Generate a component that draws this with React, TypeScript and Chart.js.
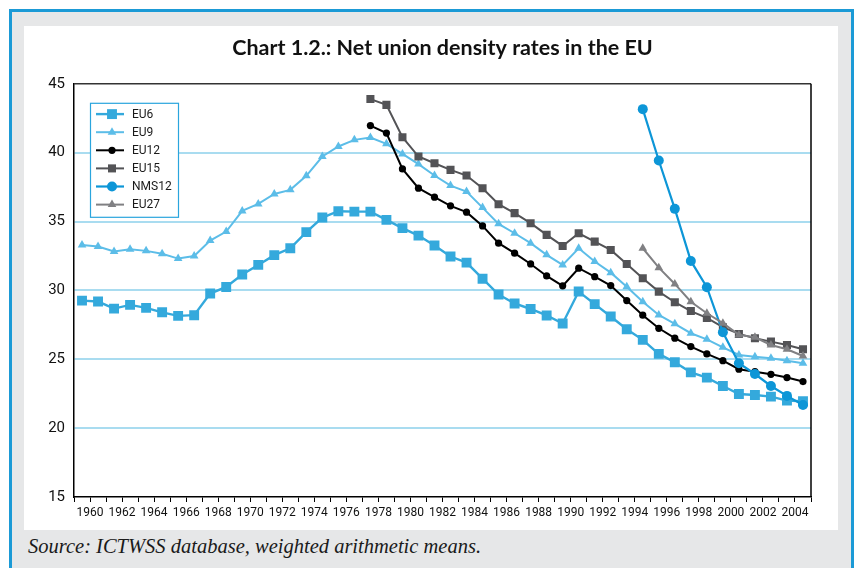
import React, { useEffect, useRef } from 'react';
import { Chart, registerables } from 'chart.js';

Chart.register(...registerables);

const titleText = 'Chart 1.2.: Net union density rates in the EU';
const sourceText = 'Source: ICTWSS database, weighted arithmetic means.';

const years = [
  '1960', '1961', '1962', '1963', '1964', '1965', '1966', '1967', '1968', '1969',
  '1970', '1971', '1972', '1973', '1974', '1975', '1976', '1977', '1978', '1979',
  '1980', '1981', '1982', '1983', '1984', '1985', '1986', '1987', '1988', '1989',
  '1990', '1991', '1992', '1993', '1994', '1995', '1996', '1997', '1998', '1999',
  '2000', '2001', '2002', '2003', '2004', '2005',
];

const yTicks = [15, 20, 25, 30, 35, 40, 45];

const eu6 = [
  29.26, 29.19, 28.68, 28.95, 28.73, 28.41, 28.15, 28.2, 29.77, 30.25,
  31.15, 31.85, 32.56, 33.06, 34.23, 35.29, 35.75, 35.72, 35.72, 35.12,
  34.52, 33.98, 33.26, 32.46, 32.02, 30.85, 29.7, 29.05, 28.65, 28.18,
  27.6, 29.92, 29.0, 28.1, 27.18, 26.41, 25.39, 24.78, 24.05, 23.67,
  23.06, 22.48, 22.41, 22.29, 22.0, 21.95,
];

const eu9 = [
  33.3, 33.18, 32.82, 32.99, 32.87, 32.66, 32.31, 32.5, 33.62, 34.27,
  35.77, 36.28, 37.0, 37.3, 38.32, 39.72, 40.45, 40.93, 41.1, 40.64,
  39.91, 39.17, 38.34, 37.61, 37.18, 36.01, 34.83, 34.15, 33.43, 32.58,
  31.85, 33.06, 32.1, 31.29, 30.27, 29.18, 28.22, 27.57, 26.89, 26.45,
  25.87, 25.31, 25.19, 25.07, 24.9, 24.71,
];

const eu12 = [
  null, null, null, null, null, null, null, null, null, null,
  null, null, null, null, null, null, null, null, 41.97, 41.42,
  38.82, 37.42, 36.77, 36.14, 35.68, 34.68, 33.43, 32.7, 31.92, 31.05,
  30.33, 31.61, 31.0, 30.35, 29.26, 28.2, 27.25, 26.53, 25.92, 25.39,
  24.9, 24.28, 24.1, 23.91, 23.67, 23.38,
];

const eu15 = [
  null, null, null, null, null, null, null, null, null, null,
  null, null, null, null, null, null, null, null, 43.89, 43.47,
  41.12, 39.72, 39.23, 38.75, 38.34, 37.42, 36.26, 35.61, 34.88, 34.03,
  33.23, 34.15, 33.54, 32.94, 31.92, 30.88, 29.91, 29.14, 28.5, 28.0,
  27.33, 26.84, 26.53, 26.28, 26.04, 25.73,
];

const nms12 = [
  null, null, null, null, null, null, null, null, null, null,
  null, null, null, null, null, null, null, null, null, null,
  null, null, null, null, null, null, null, null, null, null,
  null, null, null, null, null, 43.16, 39.43, 35.92, 32.14, 30.23,
  26.96, 24.71, 23.93, 23.06, 22.34, 21.68,
];

const eu27 = [
  null, null, null, null, null, null, null, null, null, null,
  null, null, null, null, null, null, null, null, null, null,
  null, null, null, null, null, null, null, null, null, null,
  null, null, null, null, null, 33.06, 31.65, 30.47, 29.18, 28.34,
  27.62, 26.77, 26.6, 26.04, 25.73, 25.24,
];

const seriesLabels = ['EU6', 'EU9', 'EU12', 'EU15', 'NMS12', 'EU27'];
const seriesData = [eu6, eu9, eu12, eu15, nms12, eu27];
const seriesColors = ['#34a9dc', '#5cbde8', '#000000', '#535356', '#0d96d7', '#808083'];
const seriesMarkers = ['rect', 'triangle', 'circle', 'rect', 'circle', 'triangle'];
const markerRadius = [7, 5, 3.6, 5.7, 5, 5];
const lineWidths = [2.4, 2, 2, 2, 2.2, 2];

function drawMarker(ctx: CanvasRenderingContext2D, style: string, r: number, x: number, y: number) {
  ctx.beginPath();
  if (style === 'rect') {
    const s = Math.SQRT1_2 * r;
    ctx.rect(x - s, y - s, 2 * s, 2 * s);
  } else if (style === 'triangle') {
    let a = 0;
    ctx.moveTo(x + Math.sin(a) * r, y - Math.cos(a) * r);
    a += (2 * Math.PI) / 3;
    ctx.lineTo(x + Math.sin(a) * r, y - Math.cos(a) * r);
    a += (2 * Math.PI) / 3;
    ctx.lineTo(x + Math.sin(a) * r, y - Math.cos(a) * r);
    ctx.closePath();
  } else {
    ctx.arc(x, y, r, 0, Math.PI * 2);
  }
  ctx.fill();
}

const framePlugin = {
  id: 'frame',
  beforeDatasetsDraw(chart: any) {
    const { ctx, chartArea } = chart;
    ctx.save();
    ctx.lineWidth = 1.5;
    ctx.strokeStyle = '#333';
    ctx.beginPath();
    ctx.moveTo(chartArea.left, chartArea.top);
    ctx.lineTo(chartArea.right, chartArea.top);
    ctx.stroke();
    ctx.strokeStyle = '#000';
    ctx.beginPath();
    ctx.moveTo(chartArea.right, chartArea.top);
    ctx.lineTo(chartArea.right, chartArea.bottom);
    ctx.stroke();
    ctx.restore();
  },
};

const legendPlugin = {
  id: 'boxLegend',
  afterDraw(chart: any) {
    const { ctx, chartArea } = chart;
    const x0 = chartArea.left + 16;
    const y0 = chartArea.top + 19;
    const w = 88;
    const h = 114;
    ctx.save();
    ctx.fillStyle = '#ffffff';
    ctx.fillRect(x0, y0, w, h);
    ctx.strokeStyle = '#2aa5dd';
    ctx.lineWidth = 1.2;
    ctx.strokeRect(x0 + 0.5, y0 + 0.5, w, h);
    seriesLabels.forEach((label, i) => {
      const cy = y0 + 11.3 + i * 18.1;
      ctx.strokeStyle = seriesColors[i];
      ctx.lineWidth = lineWidths[i];
      ctx.beginPath();
      ctx.moveTo(x0 + 6, cy);
      ctx.lineTo(x0 + 34, cy);
      ctx.stroke();
      ctx.fillStyle = seriesColors[i];
      drawMarker(ctx, seriesMarkers[i], markerRadius[i], x0 + 22, cy);
      ctx.fillStyle = '#1a1a1a';
      ctx.font = '12px Roboto, "Noto Sans", sans-serif';
      ctx.textBaseline = 'middle';
      ctx.textAlign = 'left';
      ctx.fillText(label, x0 + 42, cy + 0.5);
    });
    ctx.restore();
  },
};

function UnionChart() {
  const ref = useRef<HTMLCanvasElement | null>(null);

  useEffect(() => {
    if (!ref.current) return;
    const datasets = seriesLabels.map((label, i) => ({
      label,
      data: seriesData[i],
      borderColor: seriesColors[i],
      backgroundColor: seriesColors[i],
      pointBackgroundColor: seriesColors[i],
      pointBorderColor: seriesColors[i],
      pointBorderWidth: 0,
      pointStyle: seriesMarkers[i],
      pointRadius: markerRadius[i],
      borderWidth: lineWidths[i],
      tension: 0,
      fill: false,
      spanGaps: false,
      order: seriesLabels.length - i,
    }));

    const chart = new Chart(ref.current, {
      type: 'line',
      data: { labels: years, datasets },
      options: {
        responsive: false,
        animation: false,
        layout: { padding: { left: 0, right: 27, top: 0, bottom: 0 } },
        plugins: {
          legend: { display: false },
          tooltip: { enabled: false },
          title: {
            display: true,
            fullSize: false,
            text: titleText,
            color: '#111',
            font: { family: 'Lato, Roboto, sans-serif', size: 21.5, weight: 'bold', lineHeight: 1.2 },
            padding: { top: 9, bottom: 23 },
          },
        },
        scales: {
          x: {
            type: 'category',
            offset: true,
            grid: {
              offset: true,
              drawOnChartArea: false,
              drawTicks: true,
              tickLength: 5,
              tickColor: '#000',
              tickWidth: 1,
            },
            border: { color: '#000', width: 1.5 },
            ticks: {
              autoSkip: false,
              maxRotation: 0,
              minRotation: 0,
              labelOffset: 8,
              padding: 4,
              color: '#111',
              font: { family: 'Roboto, sans-serif', size: 12 },
              callback: (_v: any, i: number) => (i % 2 === 0 ? years[i] : ''),
            },
            afterFit: (s: any) => {
              s.height = 33;
            },
          },
          y: {
            min: yTicks[0],
            max: yTicks[yTicks.length - 1],
            afterBuildTicks: (s: any) => {
              s.ticks = yTicks.map((v) => ({ value: v }));
            },
            ticks: {
              padding: 9,
              color: '#111',
              font: { family: 'Roboto, sans-serif', size: 15 },
            },
            grid: {
              color: (c: any) =>
                c.tick && (c.tick.value === 15 || c.tick.value === 45) ? 'rgba(0,0,0,0)' : '#a9dcf0',
              lineWidth: 2,
              drawTicks: false,
            },
            border: { color: '#000', width: 1.5 },
            afterFit: (s: any) => {
              s.width = 50;
            },
          },
        },
      },
      plugins: [framePlugin, legendPlugin],
    } as any);

    return () => chart.destroy();
  }, []);

  return <canvas ref={ref} width={814} height={504} style={{ display: 'block' }} />;
}

export default function App() {
  return (
    <div
      style={{
        position: 'fixed',
        left: 0,
        top: 0,
        width: 856,
        height: 568,
        background: '#ffffff',
        overflow: 'hidden',
      }}
    >
      <div
        style={{
          position: 'absolute',
          left: 9,
          top: 9,
          width: 845,
          height: 620,
          boxSizing: 'border-box',
          border: '3px solid #1b9ad6',
          background: '#e6e7e8',
        }}
      />
      <div
        style={{
          position: 'absolute',
          left: 24,
          top: 26,
          width: 814,
          height: 504,
          background: '#ffffff',
        }}
      >
        <UnionChart />
      </div>
      <div
        style={{
          position: 'absolute',
          left: 28,
          top: 535,
          fontFamily: '"Liberation Serif", "DejaVu Serif", serif',
          fontStyle: 'italic',
          fontSize: 20.5,
          color: '#1a1a1a',
          whiteSpace: 'nowrap',
        }}
      >
        {sourceText}
      </div>
    </div>
  );
}
